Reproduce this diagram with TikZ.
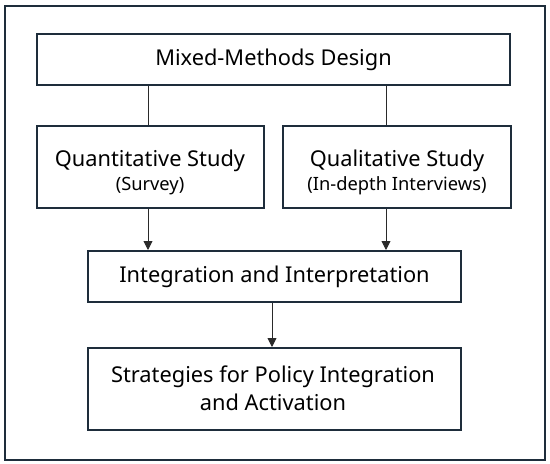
\documentclass[tikz,border=0pt]{standalone}
\usepackage{fontspec}
\setmainfont{Noto Sans}
\usetikzlibrary{arrows.meta}
\definecolor{frame}{HTML}{1E2D3B}
\definecolor{conn}{HTML}{2A2A2A}
\tikzset{
  box/.style={draw=frame, line width=2pt, fill=white, inner sep=0pt, align=center, text=black},
  main/.style={font=\fontsize{21.8}{28}\selectfont},
  link/.style={draw=conn, line width=0.9pt},
  arr/.style={link, -{Triangle[length=9pt,width=9pt]}}
}
\newcommand{\subtxt}[1]{{\fontsize{18.3}{24}\selectfont #1}}
\begin{document}
\begin{tikzpicture}[x=1pt,y=-1pt]
\useasboundingbox (0,0) rectangle (550,464);
\fill[white] (0,0) rectangle (550,464);
\draw[frame, line width=2pt] (5,6) rectangle (545,460);
\node[box, main, minimum width=473pt, minimum height=51pt] (mm) at (273.5,59.5) {Mixed-Methods Design};
\node[box, minimum width=227pt, minimum height=82pt] (qn) at (150.5,167) {};
\node[box, minimum width=228pt, minimum height=82pt] (ql) at (397,167) {};
\node[main, anchor=base] (qnt) at (150,166) {Quantitative Study};
\node[anchor=base, font=\fontsize{18.3}{24}\selectfont] (qns) at (150,190) {(Survey)};
\node[main, anchor=base] (qlt) at (397,166) {Qualitative Study};
\node[anchor=base, font=\fontsize{18.3}{24}\selectfont] (qls) at (397,190) {(In-depth Interviews)};
\node[box, main, minimum width=373pt, minimum height=51pt] (ii) at (274.5,276.5) {Integration and Interpretation};
\node[box, main, minimum width=373pt, minimum height=82pt] (sp) at (274.5,389) {};
\node[main, anchor=base] (sp1) at (273,382) {Strategies for Policy Integration};
\node[main, anchor=base] (sp2) at (273,410) {and Activation};
\draw[link] (mm.south -| 148,0) -- (qn.north -| 148,0);
\draw[link] (mm.south -| 386,0) -- (ql.north -| 386,0);
\draw[arr] (qn.south -| 148,0) -- (ii.north -| 148,0);
\draw[arr] (ql.south -| 386,0) -- (ii.north -| 386,0);
\draw[arr] (ii.south -| 272,0) -- (sp.north -| 272,0);
\end{tikzpicture}
\end{document}
